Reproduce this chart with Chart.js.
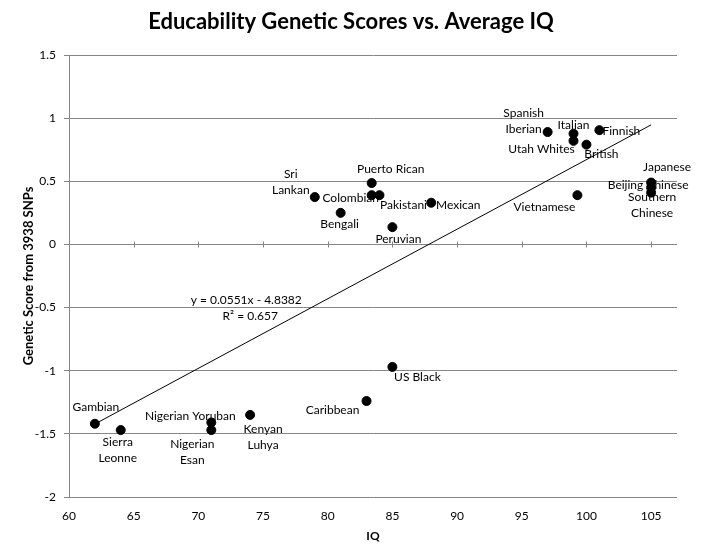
<!DOCTYPE html>
<html>
<head>
<meta charset="utf-8">
<script src="https://cdn.jsdelivr.net/npm/chart.js@4.4.0/dist/chart.umd.min.js"></script>
<style>
  html, body { margin: 0; padding: 0; background: #ffffff; }
  #wrap { width: 702px; height: 559px; position: relative; }
</style>
</head>
<body>
<div id="wrap"><canvas id="chartIQ"></canvas></div>
<script>
const poblaciones = [
  "Gambian", "Sierra Leonne", "Nigerian Yoruban", "Nigerian Esan", "Kenyan Luhya",
  "Caribbean", "US Black", "Sri Lankan", "Bengali", "Puerto Rican", "Colombian",
  "Pakistani", "Mexican", "Peruvian", "Spanish Iberian", "Italian", "Utah Whites",
  "British", "Finnish", "Vietnamese", "Japanese", "Beijing Chinese", "Southern Chinese"
];
const iqMedio = [62, 64, 71, 71, 74, 83, 85, 79, 81, 83.4, 83.4, 84, 88, 85, 97, 99, 99, 100, 101, 99.3, 105, 105, 105];
const puntaje = [-1.42, -1.47, -1.41, -1.47, -1.35, -1.24, -0.97, 0.375, 0.25, 0.486, 0.39, 0.39, 0.33, 0.137,
  0.89, 0.877, 0.82, 0.79, 0.905, 0.39, 0.49, 0.45, 0.41];

// lineas de cada etiqueta (Excel parte algunas en dos renglones)
const etiquetas = [
  ["Gambian"], ["Sierra", "Leonne"], ["Nigerian Yoruban"], ["Nigerian", "Esan"], ["Kenyan", "Luhya"],
  ["Caribbean"], ["US Black"], ["Sri", "Lankan"], ["Bengali"], ["Puerto Rican"], ["Colombian"],
  ["Pakistani"], ["Mexican"], ["Peruvian"], ["Spanish", "Iberian"], ["Italian"], ["Utah Whites"],
  ["British"], ["Finnish"], ["Vietnamese"], ["Japanese"], ["Beijing Chinese"], ["Southern", "Chinese"]
];

const tendenciaX = [62, 105];
const tendenciaY = [-1.422, 0.947];
const ecuacion = ["y = 0.0551x - 4.8382", "R\u00b2 = 0.657"];
const titulo = "Educability Genetic Scores vs. Average IQ";

const yTicks = [1.5, 1, 0.5, 0, -0.5, -1, -1.5, -2];
const xTicks = [60, 65, 70, 75, 80, 85, 90, 95, 100, 105];

// desplazamiento (px) del centro del primer renglon respecto al punto
const desplazEtiqueta = [
  [1, -17], [-3, 12], [-21, -6], [-19, 14], [13, 14],
  [-34, 9], [25, 10], [-24, -23], [-1, 11], [19, -14], [-21, 3],
  [24, 10], [27, 2], [6, 12], [-24, -19], [0, -9], [-32, 8],
  [15, 9], [22, 1], [-33, 12], [16, -15], [-3, -2], [1, 4]
];

const FUENTE = "Lato, 'Open Sans', sans-serif";
const GRIS = "#868686";

const puntos = [];
for (let i = 0; i < iqMedio.length; i++) {
  puntos.push({ x: iqMedio[i], y: puntaje[i] });
}
const lineaTend = [];
for (let i = 0; i < tendenciaX.length; i++) {
  lineaTend.push({ x: tendenciaX[i], y: tendenciaY[i] });
}

const pluginExtras = {
  id: "extras",
  beforeDatasetsDraw(chart) {
    const ctx = chart.ctx;
    const xs = chart.scales.x;
    const ys = chart.scales.y;
    ctx.save();

    // eje horizontal en y = 0 con marcas cruzadas
    const y0 = Math.round(ys.getPixelForValue(0)) + 0.5;
    ctx.strokeStyle = GRIS;
    ctx.lineWidth = 1;
    ctx.beginPath();
    for (let i = 0; i < xTicks.length; i++) {
      const px = Math.round(xs.getPixelForValue(xTicks[i])) + 0.5;
      ctx.moveTo(px, y0 - 3);
      ctx.lineTo(px, y0 + 3);
    }
    ctx.stroke();

    // etiquetas de datos
    ctx.fillStyle = "#000";
    ctx.font = "12px " + FUENTE;
    ctx.textAlign = "center";
    ctx.textBaseline = "middle";
    for (let i = 0; i < puntos.length; i++) {
      const px = xs.getPixelForValue(iqMedio[i]);
      const py = ys.getPixelForValue(puntaje[i]);
      const d = desplazEtiqueta[i];
      const lineas = etiquetas[i];
      for (let k = 0; k < lineas.length; k++) {
        ctx.fillText(lineas[k], px + d[0], py + d[1] + k * 16);
      }
    }

    // ecuacion de la tendencia
    const ex = xs.getPixelForValue(73.7);
    const ey = ys.getPixelForValue(-0.444);
    ctx.fillText(ecuacion[0], ex, ey);
    ctx.fillText(ecuacion[1], ex + 4, ey + 16);
    ctx.restore();
  },
  afterDraw(chart) {
    // titulo centrado en todo el lienzo, como en Excel
    const ctx = chart.ctx;
    ctx.save();
    ctx.fillStyle = "#000";
    ctx.font = "bold 22px " + FUENTE;
    ctx.textAlign = "center";
    ctx.textBaseline = "middle";
    ctx.fillText(titulo, chart.width / 2, 22);
    ctx.restore();
  }
};

const ctx = document.getElementById("chartIQ").getContext("2d");
new Chart(ctx, {
  type: "scatter",
  data: {
    datasets: [
      {
        label: "Poblaciones",
        data: puntos,
        backgroundColor: "#000",
        borderColor: "#000",
        pointRadius: 4.5,
        pointHoverRadius: 4.5
      },
      {
        label: "Tendencia",
        type: "line",
        data: lineaTend,
        borderColor: "#000",
        borderWidth: 1,
        pointRadius: 0,
        fill: false
      }
    ]
  },
  options: {
    responsive: true,
    maintainAspectRatio: false,
    animation: false,
    layout: { padding: { left: 0, right: 25, top: 55, bottom: 0 } },
    plugins: {
      legend: { display: false },
      tooltip: { enabled: false },
      title: { display: false }
    },
    scales: {
      x: {
        type: "linear",
        min: 60,
        max: 107,
        afterBuildTicks: function (scale) {
          scale.ticks = xTicks.map(function (v) { return { value: v }; });
        },
        afterFit: function (scale) { scale.height = 62; },
        ticks: {
          color: "#000",
          font: { family: FUENTE, size: 12 },
          padding: 12,
          maxRotation: 0,
          callback: function (v) { return String(v); }
        },
        grid: { display: false, drawTicks: false },
        border: { display: false },
        title: {
          display: true,
          text: "IQ",
          color: "#000",
          font: { family: FUENTE, size: 12, weight: "bold" },
          padding: { top: 0, bottom: 16 }
        }
      },
      y: {
        min: -2,
        max: 1.5,
        afterBuildTicks: function (scale) {
          scale.ticks = yTicks.map(function (v) { return { value: v }; });
        },
        afterFit: function (scale) { scale.width = 69; },
        ticks: {
          color: "#000",
          font: { family: FUENTE, size: 12 },
          padding: 8,
          callback: function (v) { return String(v); }
        },
        grid: { color: GRIS, lineWidth: 1, tickLength: 5, drawTicks: true },
        border: { display: true, color: GRIS, width: 1 },
        title: {
          display: true,
          text: "Genetic Score from 3938 SNPs",
          color: "#000",
          font: { family: FUENTE, size: 13, weight: "bold" },
          padding: { top: 21, bottom: 0 }
        }
      }
    }
  },
  plugins: [pluginExtras]
});
</script>
</body>
</html>
